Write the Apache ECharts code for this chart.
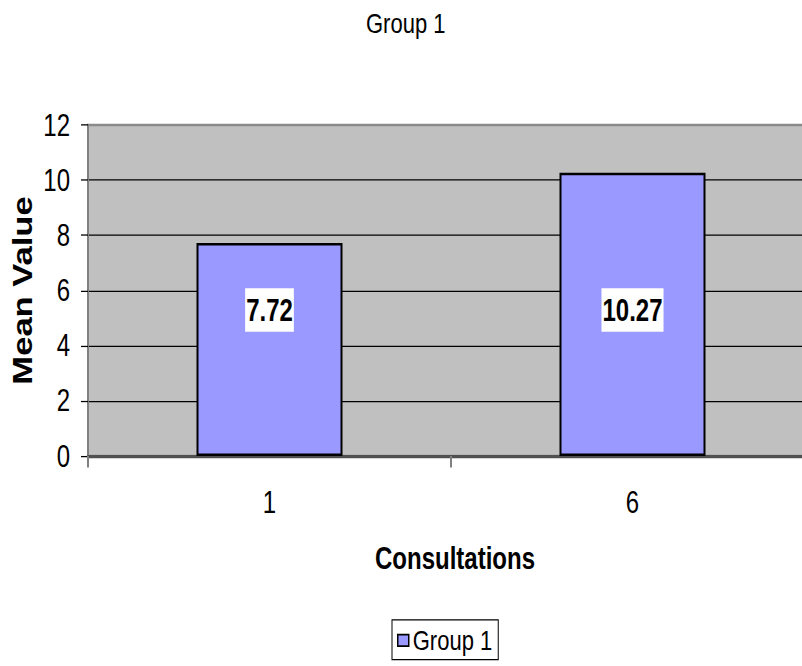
<!DOCTYPE html>
<html>
<head>
<meta charset="utf-8">
<script src="https://cdn.jsdelivr.net/npm/echarts@6/dist/echarts.min.js"></script>
<style>
  html, body { margin: 0; padding: 0; background: #fff; overflow: hidden; }
  #wrap { width: 802px; height: 666px; overflow: hidden; position: relative; }
  /* the chart is laid out in a shorter, slightly wider box and stretched
     vertically; the plot area runs past the right edge of the page */
  #main { width: 840px; height: 520px; transform: scaleY(1.2808); transform-origin: 0 0; }
</style>
</head>
<body>
<div id="wrap"><div id="main"></div></div>
<script>
// Mean value per number of consultations
const categories = ['1', '6'];
const meanValues = [7.72, 10.27];
const seriesName = 'Group 1';
const chartTitle = 'Group 1';
const xTitle = 'Consultations';
const yTitle = 'Mean Value';
const yMin = 0, yMax = 12, yStep = 2;

const FONT = "'Liberation Sans', Arial, sans-serif";

const chart = echarts.init(document.getElementById('main'), null, { renderer: 'svg' });

chart.setOption({
  animation: false,
  backgroundColor: '#ffffff',
  title: {
    text: chartTitle,
    left: 366,
    top: 7,
    padding: 0,
    textStyle: { fontFamily: FONT, fontSize: 22, fontWeight: 'normal', color: '#000' }
  },
  legend: {
    data: [seriesName],
    left: 392,
    top: 484,
    padding: [5, 6, 4, 5],
    borderColor: '#000',
    borderWidth: 1,
    backgroundColor: '#fff',
    itemWidth: 11,
    itemHeight: 9,
    itemGap: 5,
    icon: 'rect',
    itemStyle: { color: '#9999FF', borderColor: '#000', borderWidth: 1.5 },
    textStyle: { fontFamily: FONT, fontSize: 22, color: '#000', padding: [0, 0, 0, -1] }
  },
  grid: {
    left: 88,
    width: 726,
    top: 97.6,
    height: 258.4,
    outerBoundsMode: 'none',
    show: true,
    backgroundColor: '#C0C0C0',
    borderColor: '#8a8a8a',
    borderWidth: 2
  },
  xAxis: {
    type: 'category',
    data: categories,
    boundaryGap: true,
    name: xTitle,
    nameLocation: 'middle',
    nameGap: 68,
    nameMoveOverlap: false,
    nameTextStyle: { fontFamily: FONT, fontSize: 24, fontWeight: 'bold', color: '#000', padding: [0, 0, 0, 8] },
    axisLine: { show: true, lineStyle: { color: '#505050', width: 2.5 } },
    axisTick: { show: true, alignWithLabel: false, length: 9, lineStyle: { color: '#808080', width: 2 } },
    axisLabel: { margin: 24, fontFamily: FONT, fontSize: 24, color: '#000' },
    splitLine: { show: false }
  },
  yAxis: {
    type: 'value',
    min: yMin,
    max: yMax,
    interval: yStep,
    name: yTitle,
    nameLocation: 'middle',
    nameGap: 52,
    nameMoveOverlap: false,
    nameTextStyle: { fontFamily: FONT, fontSize: 27, fontWeight: 'bold', color: '#000' },
    axisLine: { show: true, lineStyle: { color: '#808080', width: 2 } },
    axisTick: { show: true, length: 7, lineStyle: { color: '#000', width: 1 } },
    axisLabel: { margin: 18, fontFamily: FONT, fontSize: 24, color: '#000' },
    splitLine: {
      show: true,
      lineStyle: {
        width: 1,
        color: ['#000', '#000', '#000', '#000', '#000', '#000', '#8a8a8a']
      }
    }
  },
  series: [{
    name: seriesName,
    type: 'bar',
    data: meanValues,
    barWidth: 146,
    itemStyle: { color: '#9999FF', borderColor: '#000', borderWidth: 2 },
    label: {
      show: true,
      position: 'insideBottom',
      distance: 97,
      formatter: '{c}',
      backgroundColor: '#fff',
      padding: [3, 1, 3, 1],
      lineHeight: 28,
      fontFamily: FONT,
      fontSize: 24,
      fontWeight: 'bold',
      color: '#000'
    }
  }]
});
</script>
</body>
</html>
